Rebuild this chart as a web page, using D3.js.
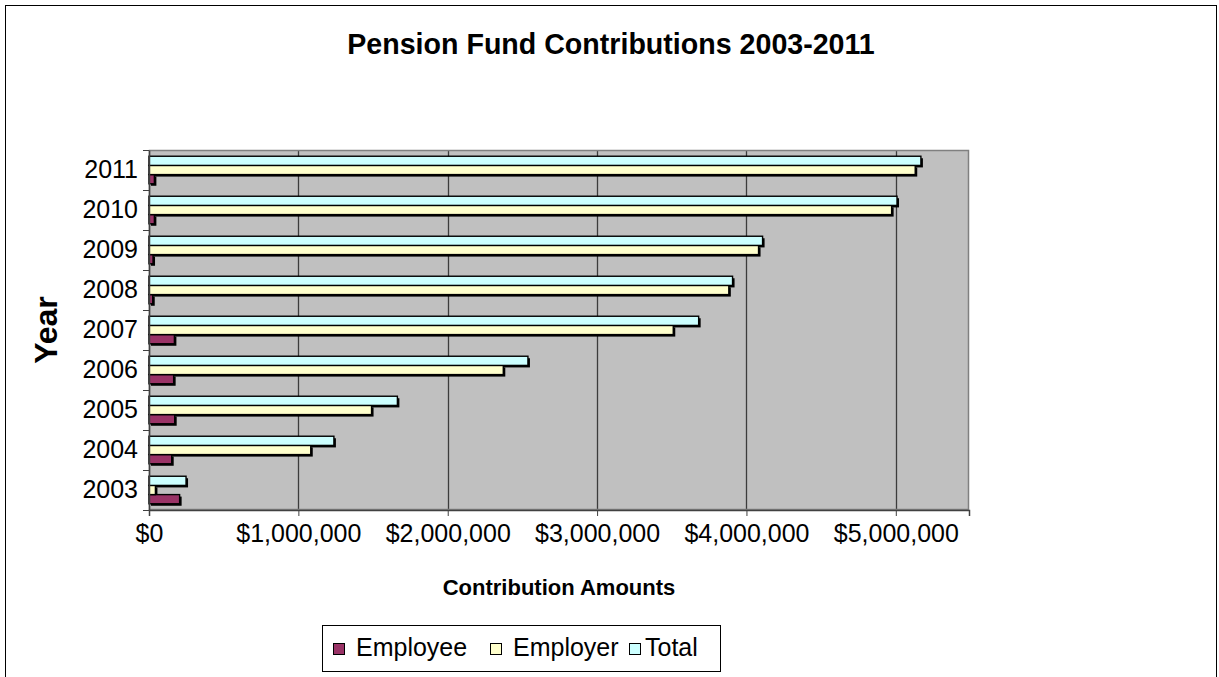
<!DOCTYPE html>
<html>
<head>
<meta charset="utf-8">
<script src="https://cdn.jsdelivr.net/npm/d3@7"></script>
<style>
  html, body { margin: 0; padding: 0; background: #fff; }
  svg { display: block; font-family: "Liberation Sans", Arial, sans-serif; }
</style>
</head>
<body>
<svg id="chart" width="1219" height="677"></svg>
<script>
// Contribution data, one value per year
const years = ["2003", "2004", "2005", "2006", "2007", "2008", "2009", "2010", "2011"];
const employee = [205000, 152000, 172000, 165000, 170000, 25000, 27000, 36000, 36000];
const employer = [43000, 1083000, 1490000, 2372000, 3510000, 3882000, 4081000, 4972000, 5130000];
const total    = [248000, 1238000, 1663000, 2537000, 3680000, 3907000, 4108000, 5008000, 5168000];
const seriesNames = ["Employee", "Employer", "Total"];
const xTicks = [0, 1000000, 2000000, 3000000, 4000000, 5000000];
const xMax = 5490000;

const colors = { Employee: "#993366", Employer: "#FFFFCC", Total: "#CCFFFF" };
const seriesValues = { Employee: employee, Employer: employer, Total: total };

const svg = d3.select("#chart");

// Chart frame
svg.append("rect")
  .attr("x", 5.5).attr("y", 5.5)
  .attr("width", 1211).attr("height", 690)
  .attr("fill", "#fff").attr("stroke", "#000").attr("stroke-width", 1);

const plot = { left: 149, top: 150, right: 969, bottom: 510 };

const x = d3.scaleLinear().domain([0, xMax]).range([plot.left, plot.right]);
// Latest year on top
const y = d3.scaleBand().domain(years.slice().reverse()).range([plot.top, plot.bottom]).padding(0);
// Within a year: Total on top, Employee at the bottom
const ySub = d3.scaleBand().domain(["Total", "Employer", "Employee"])
  .range([0, y.bandwidth()]).paddingInner(0).paddingOuter(0.68);

// Plot background
svg.append("rect")
  .attr("x", plot.left).attr("y", plot.top)
  .attr("width", plot.right - plot.left).attr("height", plot.bottom - plot.top)
  .attr("fill", "#C0C0C0");

// Vertical gridlines
svg.append("g")
  .selectAll("line")
  .data(xTicks.filter(d => d > 0))
  .join("line")
  .attr("x1", d => Math.round(x(d)) + 0.5).attr("x2", d => Math.round(x(d)) + 0.5)
  .attr("y1", plot.top).attr("y2", plot.bottom)
  .attr("stroke", "#3c3c3c").attr("stroke-width", 1.3);

// Plot border
svg.append("rect")
  .attr("x", plot.left + 0.5).attr("y", plot.top + 0.5)
  .attr("width", plot.right - plot.left - 1).attr("height", plot.bottom - plot.top - 1)
  .attr("fill", "none").attr("stroke", "#808080").attr("stroke-width", 1.5);

// Bars: shadow first, then the outlined bar
const rows = [];
years.forEach((yr, i) => {
  seriesNames.forEach(s => rows.push({ year: yr, series: s, value: seriesValues[s][i] }));
});

const barG = svg.append("g");
barG.selectAll("rect.shadow")
  .data(rows)
  .join("rect")
  .attr("class", "shadow")
  .attr("x", x(0) + 2)
  .attr("y", d => y(d.year) + ySub(d.series) + 2)
  .attr("width", d => x(d.value) - x(0))
  .attr("height", ySub.bandwidth())
  .attr("fill", "#000");

barG.selectAll("rect.bar")
  .data(rows)
  .join("rect")
  .attr("class", "bar")
  .attr("x", x(0))
  .attr("y", d => y(d.year) + ySub(d.series))
  .attr("width", d => x(d.value) - x(0))
  .attr("height", ySub.bandwidth())
  .attr("fill", d => colors[d.series])
  .attr("stroke", "#000").attr("stroke-width", 1.4);

// X axis
const xAxis = svg.append("g")
  .attr("transform", `translate(0,${plot.bottom})`)
  .call(d3.axisBottom(x).tickValues(xTicks).tickSize(6).tickPadding(8)
    .tickFormat(d => "$" + d3.format(",")(d)));
xAxis.select(".domain").attr("stroke", "#404040").attr("stroke-width", 1.5);
xAxis.selectAll(".tick line").attr("stroke", "#404040");
xAxis.selectAll("text")
  .attr("font-size", 25).attr("fill", "#000")
  .attr("font-family", "Liberation Sans, Arial, sans-serif");

// Y axis: ticks sit on the year boundaries
const yAxis = svg.append("g")
  .attr("transform", `translate(${plot.left},0)`)
  .call(d3.axisLeft(y).tickSize(0).tickPadding(11));
yAxis.select(".domain").attr("stroke", "#404040").attr("stroke-width", 1.5);
yAxis.selectAll("text")
  .attr("font-size", 25).attr("fill", "#000")
  .attr("font-family", "Liberation Sans, Arial, sans-serif");
const boundaries = years.map(yr => y(yr)).concat([plot.bottom]);
yAxis.append("g")
  .selectAll("line")
  .data(boundaries)
  .join("line")
  .attr("x1", -6).attr("x2", 0)
  .attr("y1", d => Math.round(d) + 0.5).attr("y2", d => Math.round(d) + 0.5)
  .attr("stroke", "#404040");

// Titles
svg.append("text")
  .attr("x", 611).attr("y", 54)
  .attr("text-anchor", "middle")
  .attr("font-size", 28.6).attr("font-weight", "bold")
  .text("Pension Fund Contributions 2003-2011");

svg.append("text")
  .attr("x", (plot.left + plot.right) / 2).attr("y", 595)
  .attr("text-anchor", "middle")
  .attr("font-size", 22).attr("font-weight", "bold")
  .text("Contribution Amounts");

svg.append("text")
  .attr("transform", `translate(57,${(plot.top + plot.bottom) / 2}) rotate(-90)`)
  .attr("text-anchor", "middle")
  .attr("font-size", 32).attr("font-weight", "bold")
  .text("Year");

// Legend
const legend = svg.append("g");
legend.append("rect")
  .attr("x", 322.5).attr("y", 625.5)
  .attr("width", 398).attr("height", 46)
  .attr("fill", "#fff").attr("stroke", "#000").attr("stroke-width", 1);

const legendX = { Employee: 333, Employer: 490, Total: 629 };
const items = legend.selectAll("g.item")
  .data(seriesNames)
  .join("g")
  .attr("class", "item")
  .attr("transform", d => `translate(${legendX[d]},643)`);
items.append("rect")
  .attr("x", 0.5).attr("y", 0.5)
  .attr("width", 11).attr("height", 11)
  .attr("fill", d => colors[d])
  .attr("stroke", "#000").attr("stroke-width", 1);
items.append("text")
  .attr("x", d => d === "Total" ? 16 : 23).attr("y", 13)
  .attr("font-size", 25)
  .text(d => d);
</script>
</body>
</html>
